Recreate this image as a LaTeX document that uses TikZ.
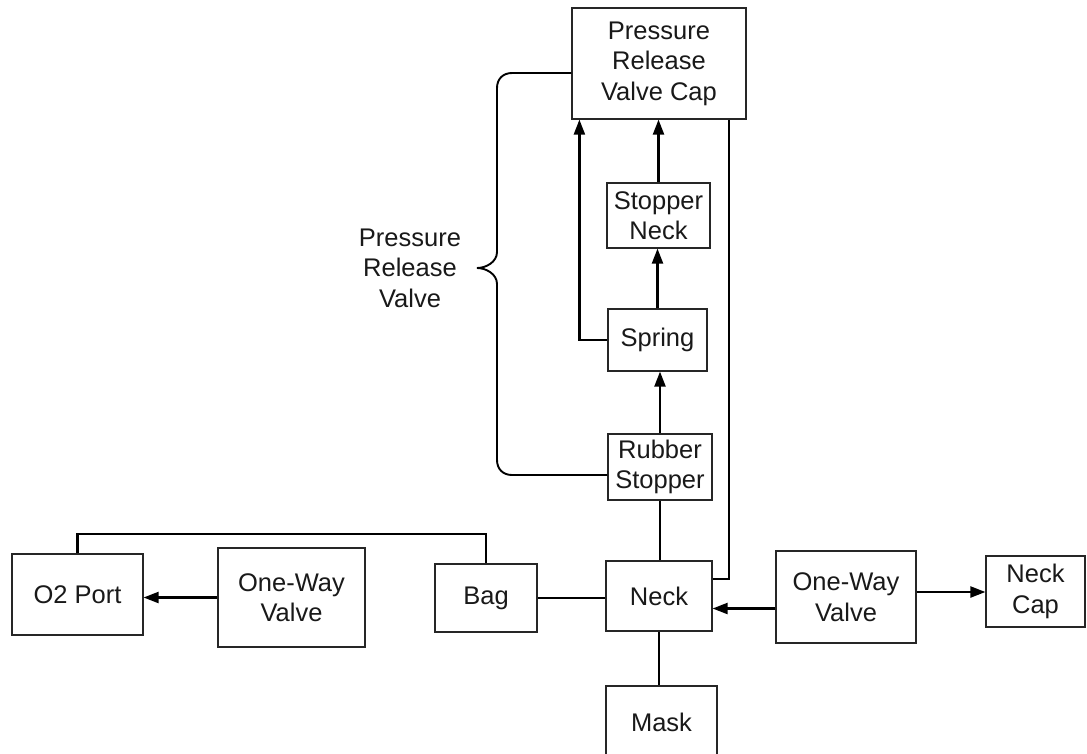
\documentclass[tikz,border=0pt]{standalone}
\usepackage{fontspec}
\setmainfont{Liberation Sans}
\usetikzlibrary{arrows.meta}
\begin{document}
\begin{tikzpicture}[x=1pt,y=-1pt,
  box/.style={draw=black!85,line width=1.2pt,rectangle,inner sep=0pt,align=center,
    font=\fontsize{25.5}{30.5}\selectfont,text=black!90},
  conn/.style={line width=2.2pt,black},
  arr/.style={conn,-{Triangle[length=15pt,width=11pt]}},
  lbl/.style={align=center,font=\fontsize{25.5}{30.5}\selectfont,text=black!90}]
\useasboundingbox (0,0) rectangle (1087,753);
\fill[white] (0,0) rectangle (1087,753);
% nodes
\node[box,minimum width=174pt,minimum height=111pt] (cap) at (659,63.5) {Pressure\\Release\\Valve Cap};
\node[box,minimum width=103pt,minimum height=65pt] (sneck) at (658.5,215.5) {Stopper\\Neck};
\node[box,minimum width=99pt,minimum height=62pt] (spring) at (657.5,340) {Spring};
\node[box,minimum width=104pt,minimum height=66pt] (rs) at (660,467) {Rubber\\Stopper};
\node[box,minimum width=106pt,minimum height=70pt] (neck) at (659,596) {Neck};
\node[box,minimum width=111pt,minimum height=72pt] (mask) at (661.5,722) {Mask};
\node[box,minimum width=140pt,minimum height=92pt] (owr) at (846,597) {One-Way\\Valve};
\node[box,minimum width=99pt,minimum height=71pt] (ncap) at (1035.5,591.5) {Neck\\Cap};
\node[box,minimum width=131pt,minimum height=81pt] (o2) at (77.5,594.5) {O2 Port};
\node[box,minimum width=147pt,minimum height=99pt] (owl) at (291.5,597.5) {One-Way\\Valve};
\node[box,minimum width=102pt,minimum height=68pt] (bag) at (486,598) {Bag};
\node[lbl] (prv) at (410,268) {Pressure\\Release\\Valve};
% connectors
\draw[arr] (sneck.north) -- (sneck.north |- cap.south);
\draw[arr] (spring.north) -- (spring.north |- sneck.south);
\draw[arr] (rs.north) -- (rs.north |- spring.south);
\draw[arr] (spring.west) -| ([xshift=8pt]cap.south west);
\draw[conn] (rs.south) -- (rs.south |- neck.north);
\draw[conn] ([xshift=-18pt]cap.south east) |- ([yshift=17pt]neck.east);
\draw[conn] (bag.east) -- (bag.east -| neck.west);
\draw[arr] ([yshift=-11.5pt]owr.west) -- ([yshift=-11.5pt]owr.west -| neck.east);
\draw[arr] ([yshift=5pt]owr.east) -- ([yshift=5pt]owr.east -| ncap.west);
\draw[arr] (owl.west) -- (owl.west -| o2.east);
\draw[conn] (o2.north) -- (o2.north |- 0,534) -| (bag.north);
\draw[conn] (neck.south) -- (neck.south |- mask.north);
% brace
\draw[conn,line width=1.9pt] ([yshift=-9.5pt]cap.west) -- (512,73)
  .. controls (503,73) and (497,79) .. (497,88) -- (497,252)
  .. controls (497,262) and (486,268) .. (477,268)
  .. controls (486,268) and (497,274) .. (497,284) -- (497,460)
  .. controls (497,469) and (503,475) .. (512,475) -- ([yshift=-8pt]rs.west);
\end{tikzpicture}
\end{document}
